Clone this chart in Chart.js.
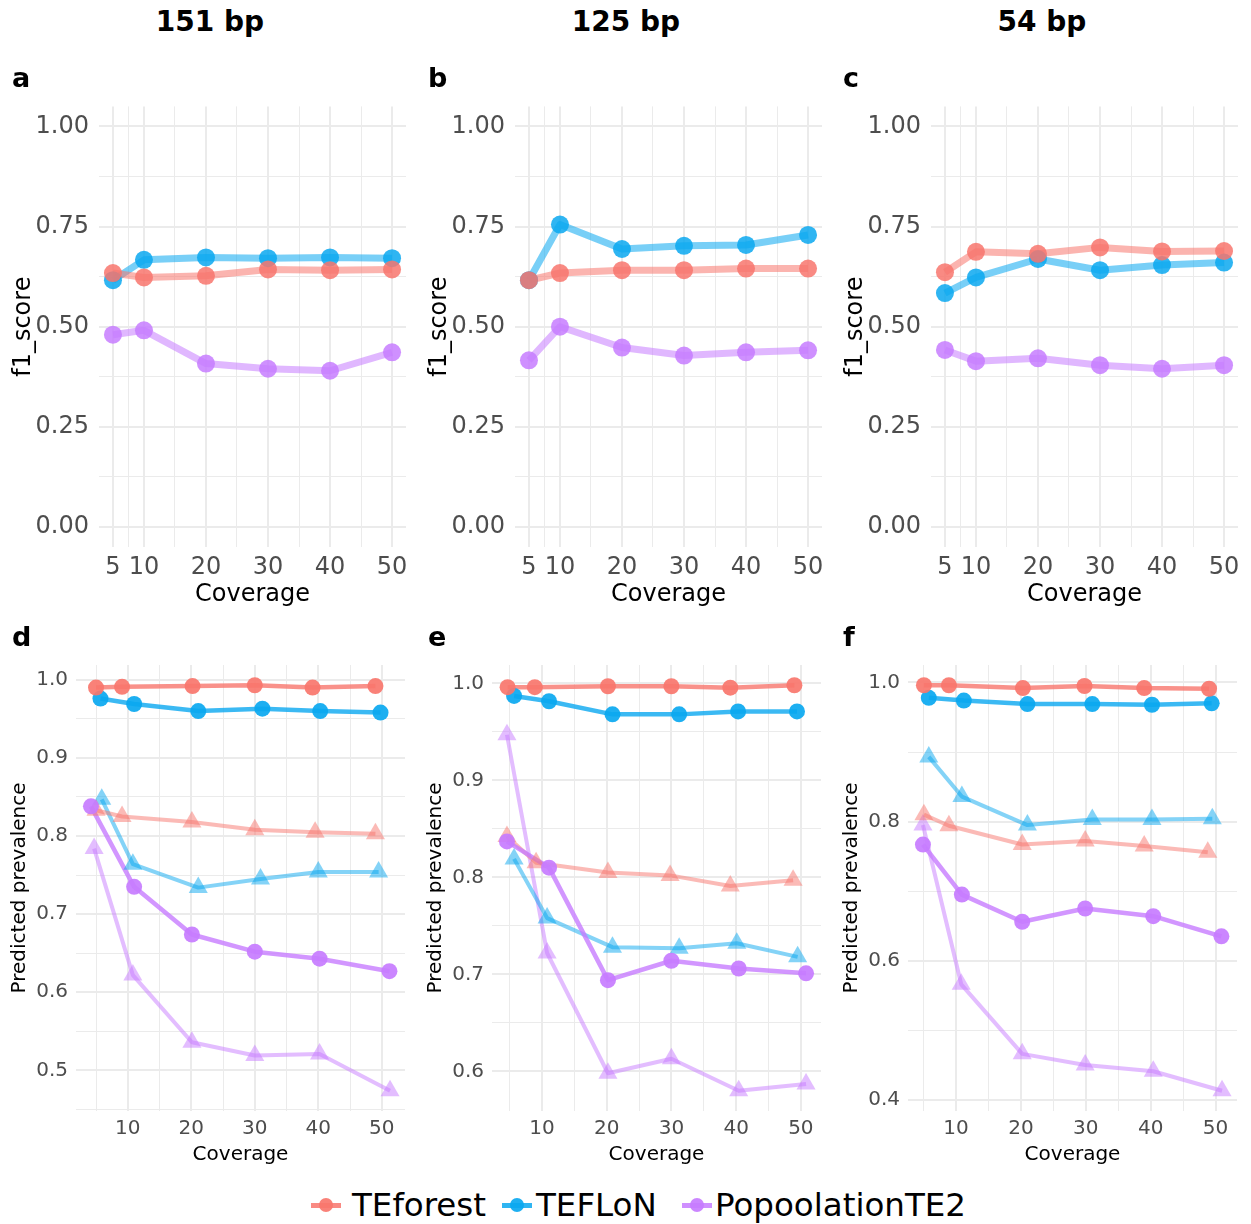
<!DOCTYPE html>
<html><head><meta charset="utf-8">
<script src="https://cdn.jsdelivr.net/npm/chart.js@4.4.1/dist/chart.umd.min.js"></script>
<style>
html,body{margin:0;padding:0;background:#fff;}
#fig{position:relative;width:1251px;height:1224px;overflow:hidden;font-family:"DejaVu Sans",sans-serif;background:#fff;}
#fig canvas{position:absolute;}
.coltitle{position:absolute;top:4px;width:416px;text-align:center;font-weight:bold;font-size:28px;line-height:36px;color:#000;z-index:2;}
.letter{position:absolute;font-weight:bold;font-size:27px;line-height:32px;color:#000;z-index:2;}
.lkey{position:absolute;width:30px;height:20px;z-index:2;}
.lkey .ln{position:absolute;left:0;top:8px;width:30px;height:5px;}
.lkey .dot{position:absolute;left:8px;top:3px;width:14px;height:14px;border-radius:50%;}
.ltxt{position:absolute;font-size:32.5px;line-height:38px;color:#000;z-index:2;}
</style>
</head><body>
<div id="fig"></div>
<script>
// ---------- data ----------
const columnTitles = ['151 bp', '125 bp', '54 bp'];
const panelLetters = ['a', 'b', 'c', 'd', 'e', 'f'];
const toolNames = ['TEforest', 'TEFLoN', 'PopoolationTE2'];
const toolColors = ['#F8766D', '#0AA8F0', '#C77CFF'];
const coverage = [5, 10, 20, 30, 40, 50];

// f1 scores (top row)
const f1_151_TEforest = [0.634, 0.623, 0.627, 0.643, 0.641, 0.643];
const f1_151_TEFLoN = [0.616, 0.667, 0.673, 0.671, 0.673, 0.671];
const f1_151_PopoolationTE2 = [0.480, 0.491, 0.408, 0.395, 0.390, 0.436];
const f1_125_TEforest = [0.616, 0.634, 0.641, 0.641, 0.645, 0.645];
const f1_125_TEFLoN = [0.616, 0.755, 0.694, 0.702, 0.704, 0.729];
const f1_125_PopoolationTE2 = [0.416, 0.500, 0.448, 0.428, 0.436, 0.441];
const f1_54_TEforest = [0.636, 0.687, 0.682, 0.698, 0.688, 0.689];
const f1_54_TEFLoN = [0.584, 0.623, 0.669, 0.641, 0.654, 0.660];
const f1_54_PopoolationTE2 = [0.442, 0.414, 0.421, 0.404, 0.395, 0.404];

// predicted prevalence (bottom row); x = jittered coverage, circles and triangles
const prev151_TEforest_circ_x = [5.0, 9.1, 20.2, 30.0, 39.1, 49.0];
const prev151_TEforest_circ = [0.990, 0.991, 0.992, 0.993, 0.990, 0.992];
const prev151_TEFLoN_circ_x = [5.7, 11.0, 21.1, 31.2, 40.3, 49.8];
const prev151_TEFLoN_circ = [0.976, 0.969, 0.960, 0.963, 0.960, 0.958];
const prev151_Popool_circ_x = [4.2, 11.0, 20.1, 30.0, 40.2, 51.2];
const prev151_Popool_circ = [0.838, 0.735, 0.674, 0.652, 0.643, 0.627];
const prev151_TEforest_tri_x = [5.0, 9.1, 20.1, 30.0, 39.5, 49.0];
const prev151_TEforest_tri = [0.833, 0.825, 0.818, 0.808, 0.805, 0.803];
const prev151_TEFLoN_tri_x = [5.9, 10.8, 21.1, 30.9, 40.0, 49.5];
const prev151_TEFLoN_tri = [0.847, 0.764, 0.734, 0.745, 0.754, 0.754];
const prev151_Popool_tri_x = [4.7, 10.8, 20.1, 30.0, 40.2, 51.3];
const prev151_Popool_tri = [0.784, 0.622, 0.536, 0.519, 0.521, 0.474];

const prev125_TEforest_circ_x = [4.7, 8.9, 20.2, 30.0, 39.1, 49.0];
const prev125_TEforest_circ = [0.996, 0.996, 0.997, 0.997, 0.9955, 0.998];
const prev125_TEFLoN_circ_x = [5.7, 11.1, 20.9, 31.2, 40.3, 49.4];
const prev125_TEFLoN_circ = [0.987, 0.9815, 0.968, 0.968, 0.971, 0.971];
const prev125_Popool_circ_x = [4.6, 11.1, 20.2, 30.0, 40.4, 50.8];
const prev125_Popool_circ = [0.837, 0.810, 0.694, 0.714, 0.706, 0.701];
const prev125_TEforest_tri_x = [4.6, 9.1, 20.2, 29.8, 39.1, 48.8];
const prev125_TEforest_tri = [0.842, 0.815, 0.805, 0.802, 0.791, 0.797];
const prev125_TEFLoN_tri_x = [5.7, 10.8, 20.9, 31.2, 40.1, 49.5];
const prev125_TEFLoN_tri = [0.819, 0.758, 0.728, 0.727, 0.732, 0.718];
const prev125_Popool_tri_x = [4.6, 10.8, 20.2, 30.0, 40.4, 50.8];
const prev125_Popool_tri = [0.947, 0.722, 0.598, 0.613, 0.580, 0.587];

const prev54_TEforest_circ_x = [5.05, 8.9, 20.3, 29.8, 39.0, 49.0];
const prev54_TEforest_circ = [0.996, 0.996, 0.992, 0.995, 0.992, 0.991];
const prev54_TEFLoN_circ_x = [5.8, 11.2, 21.0, 31.0, 40.2, 49.4];
const prev54_TEFLoN_circ = [0.978, 0.974, 0.969, 0.969, 0.968, 0.970];
const prev54_Popool_circ_x = [4.9, 10.9, 20.2, 29.9, 40.4, 50.9];
const prev54_Popool_circ = [0.767, 0.695, 0.656, 0.675, 0.664, 0.635];
const prev54_TEforest_tri_x = [5.05, 8.9, 20.2, 29.9, 39.0, 48.8];
const prev54_TEforest_tri = [0.810, 0.794, 0.767, 0.772, 0.765, 0.756];
const prev54_TEFLoN_tri_x = [5.8, 10.9, 21.0, 31.0, 40.2, 49.5];
const prev54_TEFLoN_tri = [0.893, 0.836, 0.795, 0.803, 0.803, 0.804];
const prev54_Popool_tri_x = [4.9, 10.8, 20.2, 29.9, 40.4, 51.0];
const prev54_Popool_tri = [0.795, 0.566, 0.466, 0.450, 0.441, 0.413];

// tick values
const f1Ticks = [0, 0.25, 0.5, 0.75, 1.0];
const f1Limits = [0, 1];
const topXTicks = [5, 10, 20, 30, 40, 50];
const bottomXTicks = [10, 20, 30, 40, 50];
const prevTicks151 = [0.5, 0.6, 0.7, 0.8, 0.9, 1.0];
const prevTicks125 = [0.6, 0.7, 0.8, 0.9, 1.0];
const prevTicks54 = [0.4, 0.6, 0.8, 1.0];

// ---------- helpers ----------
Chart.defaults.font.family = '"DejaVu Sans", sans-serif';
function rgba(hex, a) {
  const n = parseInt(hex.slice(1), 16);
  return `rgba(${(n >> 16) & 255},${(n >> 8) & 255},${n & 255},${a})`;
}
function expand(lo, hi) { const d = (hi - lo) * 0.05; return [lo - d, hi + d]; }
function minorTicks(b, lim) {
  const bd = b[1] - b[0];
  const ext = [b[0] - bd, ...b, b[b.length - 1] + bd];
  const out = [];
  for (let i = 0; i < ext.length - 1; i++) {
    const m = (ext[i] + ext[i + 1]) / 2;
    if (m >= lim[0] && m <= lim[1]) out.push(m);
  }
  return out;
}
const near = (a, b) => Math.abs(a - b) < 1e-6;
const isIn = (arr, v) => arr.some(t => near(t, v));

const fig = document.getElementById('fig');

function makePanel(p) {
  const cv = document.createElement('canvas');
  cv.width = 416; cv.height = p.h;
  cv.style.left = (p.col * 416) + 'px';
  cv.style.top = p.top + 'px';
  fig.appendChild(cv);

  const lineSets = [], pointSets = [];
  p.series.forEach(s => {
    const data = s.xs.map((x, i) => ({ x, y: s.ys[i] }));
    const col = toolColors[s.tool];
    lineSets.push({ data, showLine: true, borderColor: rgba(col, s.la), borderWidth: s.lw,
      pointRadius: 0, pointHoverRadius: 0, order: 2, borderJoinStyle: 'round', tension: 0, fill: false });
    pointSets.push({ data, showLine: false, pointStyle: s.shape, pointRadius: s.r, pointHoverRadius: s.r,
      pointBackgroundColor: rgba(col, s.pa), pointBorderWidth: 0, pointBorderColor: 'rgba(0,0,0,0)', order: 1 });
  });

  const xAll = [...p.xMajor, ...minorTicks(p.xMajor, p.xLim)].sort((a, b) => a - b);
  const yAll = [...p.yMajor, ...minorTicks(p.yMajor, p.yLim)].sort((a, b) => a - b);
  const gridColor = '#EBEBEB';

  new Chart(cv, {
    type: 'scatter',
    data: { datasets: [...pointSets, ...lineSets] },
    options: {
      responsive: false, animation: false, devicePixelRatio: 1, events: [],
      layout: { padding: { left: 0, right: p.padR, top: p.padT, bottom: 0 } },
      plugins: { legend: { display: false }, tooltip: { enabled: false } },
      scales: {
        x: {
          type: 'linear', min: p.xLim[0], max: p.xLim[1],
          afterBuildTicks: sc => { sc.ticks = xAll.map(v => ({ value: v })); },
          afterFit: sc => { sc.height = p.xAxisH; },
          grid: { color: gridColor, lineWidth: c => (c.tick && isIn(p.xMajor, c.tick.value)) ? 2 : 1, drawTicks: false },
          border: { display: false },
          ticks: { autoSkip: false, maxRotation: 0, minRotation: 0, padding: p.xTickPad, color: '#4D4D4D',
            font: { size: p.fs }, callback: v => isIn(p.xMajor, v) ? String(Math.round(v)) : '' },
          title: { display: true, text: 'Coverage', color: '#000', font: { size: p.fs }, padding: { top: 0, bottom: p.xTitlePad } }
        },
        y: {
          type: 'linear', min: p.yLim[0], max: p.yLim[1],
          afterBuildTicks: sc => { sc.ticks = yAll.map(v => ({ value: v })); },
          afterFit: sc => { sc.width = p.yAxisW; },
          grid: { color: gridColor, lineWidth: c => (c.tick && isIn(p.yMajor, c.tick.value)) ? 2 : 1, drawTicks: false },
          border: { display: false },
          ticks: { autoSkip: false, padding: p.yTickPad, color: '#4D4D4D', font: { size: p.fs },
            callback: v => isIn(p.yMajor, v) ? v.toFixed(p.yDec) : '' },
          title: { display: true, text: p.yTitle, color: '#000', font: { size: p.fs }, padding: { top: p.yTitlePad, bottom: 0 } }
        }
      }
    }
  });
}

// ---------- top row ----------
const f1Sets = [
  [f1_151_TEforest, f1_151_TEFLoN, f1_151_PopoolationTE2],
  [f1_125_TEforest, f1_125_TEFLoN, f1_125_PopoolationTE2],
  [f1_54_TEforest, f1_54_TEFLoN, f1_54_PopoolationTE2]
];
f1Sets.forEach((sets, col) => {
  makePanel({
    col, top: 82, h: 531, padT: 24, padR: 10, yAxisW: 99, xAxisH: 66,
    fs: 24, xTickPad: 6, xTitlePad: 4, yTickPad: 10, yTitlePad: 9, yDec: 2, yTitle: 'f1_score',
    xMajor: topXTicks, yMajor: f1Ticks,
    xLim: expand(Math.min(...coverage), Math.max(...coverage)), yLim: expand(f1Limits[0], f1Limits[1]),
    series: sets.map((ys, t) => ({ tool: t, shape: 'circle', xs: coverage, ys, la: 0.55, lw: 7, pa: 0.85, r: 9 }))
  });
});

// ---------- bottom row ----------
const prevPanels = [
  { ticks: prevTicks151, circ: [[prev151_TEforest_circ_x, prev151_TEforest_circ], [prev151_TEFLoN_circ_x, prev151_TEFLoN_circ], [prev151_Popool_circ_x, prev151_Popool_circ]],
    tri: [[prev151_TEforest_tri_x, prev151_TEforest_tri], [prev151_TEFLoN_tri_x, prev151_TEFLoN_tri], [prev151_Popool_tri_x, prev151_Popool_tri]] },
  { ticks: prevTicks125, circ: [[prev125_TEforest_circ_x, prev125_TEforest_circ], [prev125_TEFLoN_circ_x, prev125_TEFLoN_circ], [prev125_Popool_circ_x, prev125_Popool_circ]],
    tri: [[prev125_TEforest_tri_x, prev125_TEforest_tri], [prev125_TEFLoN_tri_x, prev125_TEFLoN_tri], [prev125_Popool_tri_x, prev125_Popool_tri]] },
  { ticks: prevTicks54, circ: [[prev54_TEforest_circ_x, prev54_TEforest_circ], [prev54_TEFLoN_circ_x, prev54_TEFLoN_circ], [prev54_Popool_circ_x, prev54_Popool_circ]],
    tri: [[prev54_TEforest_tri_x, prev54_TEforest_tri], [prev54_TEFLoN_tri_x, prev54_TEFLoN_tri], [prev54_Popool_tri_x, prev54_Popool_tri]] }
];
prevPanels.forEach((pp, col) => {
  const allX = [...pp.circ, ...pp.tri].flatMap(s => s[0]);
  const allY = [...pp.circ, ...pp.tri].flatMap(s => s[1]);
  const series = [
    ...pp.circ.map((s, t) => ({ tool: t, shape: 'circle', xs: s[0], ys: s[1], la: 0.8, lw: 4.5, pa: 0.92, r: 8 })),
    ...pp.tri.map((s, t) => ({ tool: t, shape: 'triangle', xs: s[0], ys: s[1], la: 0.5, lw: 4, pa: 0.5, r: 11 }))
  ];
  makePanel({
    col, top: 640, h: 532, padT: 25, padR: 9, yAxisW: 76, xAxisH: 61,
    fs: 20, xTickPad: 6, xTitlePad: 5, yTickPad: 8, yTitlePad: 8, yDec: 1, yTitle: 'Predicted prevalence',
    xMajor: bottomXTicks, yMajor: pp.ticks,
    xLim: expand(Math.min(...allX), Math.max(...allX)), yLim: expand(Math.min(...allY), Math.max(...allY)),
    series
  });
});

// ---------- titles, letters, legend ----------
columnTitles.forEach((t, i) => {
  const d = document.createElement('div');
  d.className = 'coltitle'; d.textContent = t; d.style.left = (i * 416 + 2) + 'px';
  fig.appendChild(d);
});
const letterPos = [[12, 62], [428, 62], [843, 62], [12, 621], [428, 621], [843, 621]];
panelLetters.forEach((l, i) => {
  const d = document.createElement('div');
  d.className = 'letter'; d.textContent = l;
  d.style.left = letterPos[i][0] + 'px'; d.style.top = letterPos[i][1] + 'px';
  fig.appendChild(d);
});
const legendKeyX = [311, 502, 682];
const legendTextX = [352, 536, 715];
toolNames.forEach((n, i) => {
  const k = document.createElement('div');
  k.className = 'lkey'; k.style.left = legendKeyX[i] + 'px'; k.style.top = '1195px';
  k.innerHTML = `<div class="ln" style="background:${rgba(toolColors[i], 0.85)}"></div><div class="dot" style="background:${rgba(toolColors[i], 0.92)}"></div>`;
  fig.appendChild(k);
  const t = document.createElement('div');
  t.className = 'ltxt'; t.textContent = n;
  t.style.left = legendTextX[i] + 'px'; t.style.top = '1186px';
  fig.appendChild(t);
});
</script>
</body></html>
